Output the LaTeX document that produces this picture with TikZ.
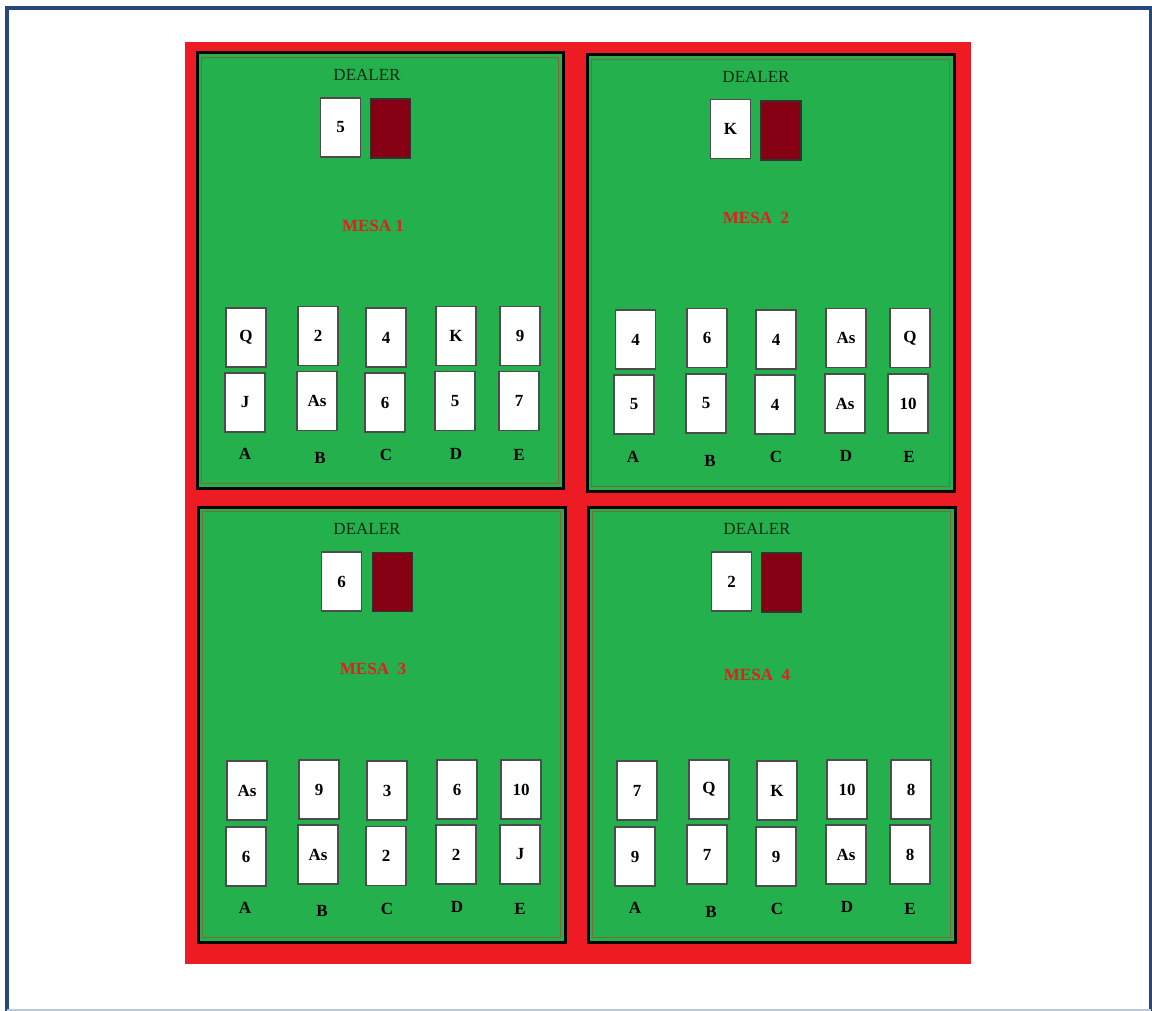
\documentclass[tikz,border=0pt]{standalone}
\usepackage{fontspec}
\setmainfont{Liberation Serif}
\definecolor{frameblue}{HTML}{24487A}
\definecolor{feltred}{HTML}{ED1C24}
\definecolor{felt}{HTML}{24B04C}
\definecolor{backcard}{HTML}{850012}
\definecolor{innerline}{HTML}{7A6A3A}
\definecolor{mesared}{HTML}{E0201E}
\definecolor{dealertxt}{HTML}{0A2A14}
\tikzset{
  card/.style={draw=black!70, fill=white, line width=1.1pt, minimum width=40pt, minimum height=59pt, inner sep=0pt, font=\bfseries\fontsize{17}{17}\selectfont},
  backside/.style={card, fill=backcard, draw=black!80},
  tablebox/.style={draw=black, line width=3pt, fill=felt},
  tableinner/.style={draw=innerline, line width=0.8pt},
  dealerlbl/.style={font=\fontsize{17}{17}\selectfont, text=dealertxt, inner sep=0pt},
  mesalbl/.style={font=\bfseries\fontsize{17}{17}\selectfont, text=mesared, inner sep=0pt},
  seatlbl/.style={font=\bfseries\fontsize{17}{17}\selectfont, inner sep=0pt}
}
\begin{document}
\begin{tikzpicture}[x=1pt,y=-1pt]
\useasboundingbox (0,0) rectangle (1152,1011);
\fill[white] (0,0) rectangle (1152,1011);
% outer frame
\draw[frameblue, line width=4pt] (7,1011) -- (7,8.5) -- (1150.5,8.5) -- (1150.5,1011);
\draw[frameblue!30, line width=1.5pt] (7,1010) -- (1150.5,1010);
% red felt
\fill[feltred] (185,42) rectangle (971,964);
% tables
\draw[tablebox] (197,53) rectangle (563,488);
\draw[tableinner] (201.5,57.5) rectangle (558.5,483.5);
\draw[tablebox] (587,55) rectangle (954,491);
\draw[tableinner] (591.5,59.5) rectangle (949.5,486.5);
\draw[tablebox] (198,507) rectangle (565,942);
\draw[tableinner] (202.5,511.5) rectangle (560.5,937.5);
\draw[tablebox] (588,507) rectangle (955,942);
\draw[tableinner] (592.5,511.5) rectangle (950.5,937.5);

% ---------- MESA 1 ----------
\node[dealerlbl] (d1) at (367,75) {DEALER};
\node[card] (d1up) at (340.5,127.5) {5};
\node[backside] (d1dn) at (390.5,128.5) {};
\node[mesalbl] (m1) at (373,226) {MESA 1};
\node[card] (t1a1) at (246,337.5) {Q};
\node[card] (t1b1) at (318,336) {2};
\node[card] (t1c1) at (386,337.5) {4};
\node[card] (t1d1) at (456,336) {K};
\node[card] (t1e1) at (520,336) {9};
\node[card] (t1a2) at (245,402.5) {J};
\node[card] (t1b2) at (317,401) {As};
\node[card] (t1c2) at (385,402.5) {6};
\node[card] (t1d2) at (455,401) {5};
\node[card] (t1e2) at (519,401) {7};
\node[seatlbl] (t1A) at (245,454) {A};
\node[seatlbl] (t1B) at (320,458) {B};
\node[seatlbl] (t1C) at (386,455) {C};
\node[seatlbl] (t1D) at (456,454) {D};
\node[seatlbl] (t1E) at (519,455) {E};

% ---------- MESA 2 ----------
\node[dealerlbl] (d2) at (756,77) {DEALER};
\node[card] (d2up) at (730.5,129) {K};
\node[backside] (d2dn) at (781,130.5) {};
\node[mesalbl] (m2) at (756,218) {MESA\ \ 2};
\node[card] (t2a1) at (635.5,339.5) {4};
\node[card] (t2b1) at (707,338) {6};
\node[card] (t2c1) at (776,339.5) {4};
\node[card] (t2d1) at (846,338) {As};
\node[card] (t2e1) at (910,338) {Q};
\node[card] (t2a2) at (634,404.5) {5};
\node[card] (t2b2) at (706,403.5) {5};
\node[card] (t2c2) at (775,404.5) {4};
\node[card] (t2d2) at (845,403.5) {As};
\node[card] (t2e2) at (908,403.5) {10};
\node[seatlbl] (t2A) at (633,457) {A};
\node[seatlbl] (t2B) at (710,461) {B};
\node[seatlbl] (t2C) at (776,457) {C};
\node[seatlbl] (t2D) at (846,456) {D};
\node[seatlbl] (t2E) at (909,457) {E};

% ---------- MESA 3 ----------
\node[dealerlbl] (d3) at (367,529) {DEALER};
\node[card] (d3up) at (341.5,581.5) {6};
\node[backside] (d3dn) at (392.5,582) {};
\node[mesalbl] (m3) at (373,669) {MESA\ \ 3};
\node[card] (t3a1) at (247,790.5) {As};
\node[card] (t3b1) at (319,789.5) {9};
\node[card] (t3c1) at (387,790.5) {3};
\node[card] (t3d1) at (457,789.5) {6};
\node[card] (t3e1) at (521,789.5) {10};
\node[card] (t3a2) at (246,856.5) {6};
\node[card] (t3b2) at (318,854.5) {As};
\node[card] (t3c2) at (386,856) {2};
\node[card] (t3d2) at (456,854.5) {2};
\node[card] (t3e2) at (520,854.5) {J};
\node[seatlbl] (t3A) at (245,908) {A};
\node[seatlbl] (t3B) at (322,911) {B};
\node[seatlbl] (t3C) at (387,909) {C};
\node[seatlbl] (t3D) at (457,907) {D};
\node[seatlbl] (t3E) at (520,909) {E};

% ---------- MESA 4 ----------
\node[dealerlbl] (d4) at (757,529) {DEALER};
\node[card] (d4up) at (731.5,581.5) {2};
\node[backside] (d4dn) at (781.5,582.5) {};
\node[mesalbl] (m4) at (757,675) {MESA\ \ 4};
\node[card] (t4a1) at (637,790.5) {7};
\node[card] (t4b1) at (709,789.5) {Q};
\node[card] (t4c1) at (777,790.5) {K};
\node[card] (t4d1) at (847,789.5) {10};
\node[card] (t4e1) at (911,789.5) {8};
\node[card] (t4a2) at (635,856.5) {9};
\node[card] (t4b2) at (707,854.5) {7};
\node[card] (t4c2) at (776,856.5) {9};
\node[card] (t4d2) at (846,854.5) {As};
\node[card] (t4e2) at (910,854.5) {8};
\node[seatlbl] (t4A) at (635,908) {A};
\node[seatlbl] (t4B) at (711,912) {B};
\node[seatlbl] (t4C) at (777,909) {C};
\node[seatlbl] (t4D) at (847,907) {D};
\node[seatlbl] (t4E) at (910,909) {E};
\end{tikzpicture}
\end{document}
